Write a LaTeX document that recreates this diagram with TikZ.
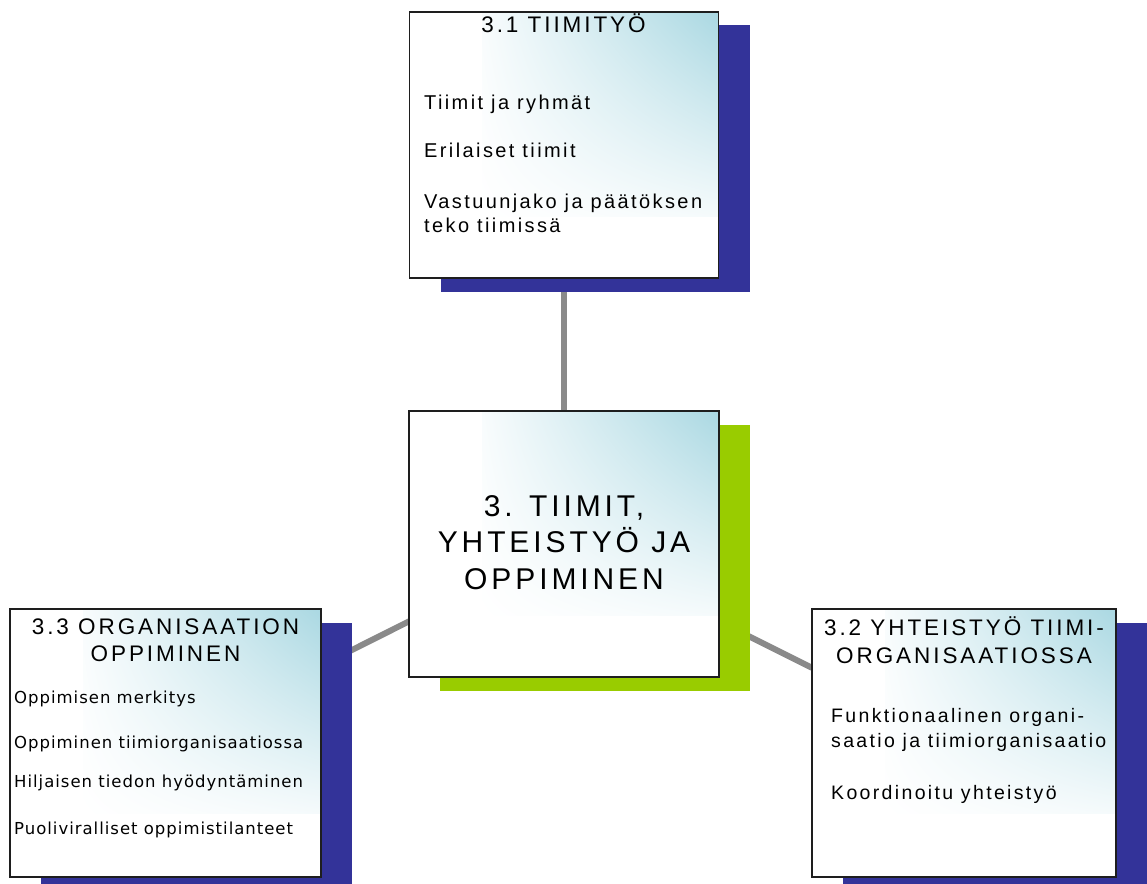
\documentclass[tikz,border=0pt]{standalone}
\usepackage{fontspec}
\setmainfont{Liberation Sans}
\newfontfamily\headfont[LetterSpace=13]{Liberation Sans}
\newfontfamily\itemfont[LetterSpace=12]{Liberation Sans}
\newfontfamily\smallitemfont[LetterSpace=6]{DejaVu Sans}
\usetikzlibrary{backgrounds,shadings}

\definecolor{navy}{RGB}{51,51,153}
\definecolor{lime}{RGB}{153,204,0}
\definecolor{tint}{RGB}{170,216,226}
\definecolor{linkgray}{RGB}{138,138,138}
\definecolor{rim}{RGB}{30,30,30}

% a panel: drop shadow, white card, soft tint in the upper right, frame
\newcommand\panel[6]{%
  \node[shadowbox=#6, minimum width=#4pt, minimum height=#5pt] (#1-shadow) at (#2+31,#3+13.5) {};
  \node[card, minimum width=#4pt, minimum height=#5pt] (#1) at (#2,#3) {};
  \shade[upper right=tint, upper left=tint!8, lower left=white, lower right=tint!12]
    ([xshift=73pt]#1.north west) rectangle ([yshift=-204pt]#1.north east);
  \draw[frame] (#1.south west) rectangle (#1.north east);
}

\begin{document}
\begin{tikzpicture}[x=1pt, y=-1pt,
  card/.style={fill=white, inner sep=0pt, outer sep=0pt},
  shadowbox/.style={fill=#1, inner sep=0pt, outer sep=0pt},
  frame/.style={draw=rim, line width=1.6pt},
  link/.style={draw=linkgray, line width=6pt},
  head/.style={anchor=base, inner sep=0pt, font=\headfont\fontsize{22.5}{26}\selectfont},
  hubhead/.style={anchor=base, inner sep=0pt, font=\headfont\fontsize{30}{36}\selectfont},
  item/.style={anchor=base west, inner sep=0pt, font=\itemfont\fontsize{20}{24}\selectfont},
  narrowitem/.style={anchor=base west, inner sep=0pt, font=\itemfont\fontsize{19.5}{23}\selectfont},
  smallitem/.style={anchor=base west, inner sep=0pt, font=\smallitemfont\fontsize{16.5}{20}\selectfont}]

\useasboundingbox (0,0) rectangle (1147,883);

\panel{top}{564}{145}{309}{266}{navy}
\panel{hub}{564}{544}{310}{266}{lime}
\panel{left}{165.5}{743}{311}{268}{navy}
\panel{right}{964}{743}{304}{268}{navy}

\begin{scope}[on background layer]
  \draw[link] (top) -- (hub);
  \draw[link] (hub) -- (left);
  \draw[link] (hub) -- (right);
\end{scope}

% 3.1
\node[head] (top-t1) at (563.5,33) {3.1 TIIMITYÖ};
\node[item] (top-i1) at (424,109) {Tiimit ja ryhmät};
\node[item] (top-i2) at (424,157) {Erilaiset tiimit};
\node[item] (top-i3) at (424,208) {Vastuunjako ja päätöksen};
\node[item] (top-i4) at (424,232) {teko tiimissä};

% 3.
\node[hubhead] (hub-t1) at (564,516) {3. TIIMIT,};
\node[hubhead] (hub-t2) at (564,552) {YHTEISTYÖ JA};
\node[hubhead] (hub-t3) at (564,589) {OPPIMINEN};

% 3.3
\node[head] (left-t1) at (165.5,634) {3.3 ORGANISAATION};
\node[head] (left-t2) at (165.5,661) {OPPIMINEN};
\node[smallitem] (left-i1) at (14,703) {Oppimisen merkitys};
\node[smallitem] (left-i2) at (14,748) {Oppiminen tiimiorganisaatiossa};
\node[smallitem] (left-i3) at (14,787) {Hiljaisen tiedon hyödyntäminen};
\node[smallitem] (left-i4) at (14,834) {Puoliviralliset oppimistilanteet};

% 3.2
\node[head] (right-t1) at (964,635) {3.2 YHTEISTYÖ TIIMI-};
\node[head] (right-t2) at (964,663) {ORGANISAATIOSSA};
\node[narrowitem] (right-i1) at (831,722) {Funktionaalinen organi-};
\node[narrowitem] (right-i2) at (831,747) {saatio ja tiimiorganisaatio};
\node[narrowitem] (right-i3) at (831,799) {Koordinoitu yhteistyö};

\end{tikzpicture}
\end{document}
